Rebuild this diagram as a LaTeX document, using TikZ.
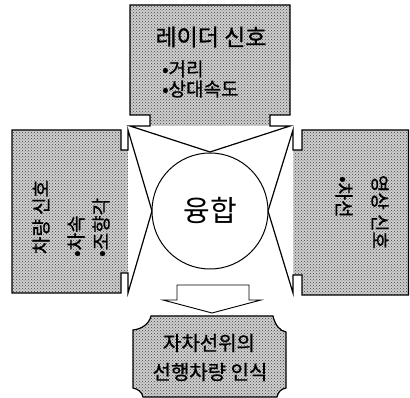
\documentclass[tikz,border=0pt]{standalone}
\usepackage{fontspec}
\newfontfamily\kr{Noto Sans CJK KR}
\newfontfamily\krm{Noto Sans CJK KR}[FakeBold=0.8]
\usetikzlibrary{patterns}
\tikzset{
  halftone/.style={preaction={fill=gray!38}, pattern=crosshatch dots, pattern color=black!75},
  outline/.style={draw=black, line width=1.2pt, line join=miter},
  txt/.style={font=\krm\fontsize{#1}{#1}\selectfont, inner sep=0pt},
  whitebox/.style={draw=black, line width=0.9pt, fill=white}
}
\begin{document}
\begin{tikzpicture}[x=1pt,y=-1pt]
\useasboundingbox (0,0) rectangle (410,398);
% ---- fills of the three signal boxes
\fill[halftone] (130,5) -- (290,5) -- (290,115) -- (270,115) -- (270,126) -- (150,126) -- (150,115) -- (130,115) -- cycle;
\fill[halftone] (12,130) -- (121,130) -- (121,150) -- (128,150) -- (128,273) -- (121,273) -- (121,293) -- (12,293) -- cycle;
\fill[halftone] (408.5,130) -- (302,130) -- (302,150) -- (293,150) -- (293,275) -- (302,275) -- (302,295) -- (408.5,295) -- cycle;
% ---- white wedges pointing to the centre
\fill[white] (150,126) -- (270,126) -- (210,152) -- cycle;
\fill[white] (128,150) -- (152,211) -- (128,273) -- cycle;
\fill[white] (293,150) -- (268,211) -- (293,275) -- cycle;
% ---- outlines of the arms
\draw[outline] (150,126) -- (150,115) -- (130,115) -- (130,5) -- (290,5) -- (290,115) -- (270,115) -- (270,126) -- (290,126) -- (210,152) -- (130,126) -- cycle;
\draw[outline] (12,130) -- (121,130) -- (121,150) -- (128,150) -- (128,130) -- (152,211) -- (128,293) -- (128,273) -- (121,273) -- (121,293) -- (12,293) -- cycle;
\draw[outline] (408.5,130) -- (302,130) -- (302,150) -- (293,150) -- (293,130) -- (268,211) -- (293,293) -- (293,275) -- (302,275) -- (302,295) -- (408.5,295) -- cycle;
% ---- texts of the arms
\node[txt=23] (radar) at (211,37) {레이더 신호};
\node[txt=19, anchor=west] (dist) at (162,69) {•거리};
\node[txt=19, anchor=west] (relv) at (162,89) {•상대속도};
\node[txt=19, rotate=90] (veh) at (41,217) {차량 신호};
\node[txt=19, rotate=90, anchor=west] (spd) at (76,257) {•차속};
\node[txt=19, rotate=90, anchor=west] (steer) at (101,257) {•조향각};
\node[txt=19, rotate=-90] (img) at (380,212) {영상 신호};
\node[txt=19, rotate=-90, anchor=west] (lane) at (344,176) {•차선};
% ---- fusion circle
\node[whitebox, circle, minimum size=116pt, inner sep=0pt, line width=1pt, font=\kr\fontsize{29}{29}\selectfont] (fuse) at (210,211) {융합};
% ---- block arrow
\draw[whitebox] (177,285) -- (249,285) -- (249,300) -- (261,300) -- (212,313) -- (163,300) -- (177,300) -- cycle;
% ---- result box
\draw[halftone, draw=black, line width=1.2pt]
  (151,316) -- (273,316) .. controls (275,325) and (280,331) .. (286,332)
  -- (286,388) .. controls (281,389) and (278,392) .. (277,397)
  -- (143,397) .. controls (142,392) and (138,389) .. (133,388)
  -- (133,330) .. controls (142,329) and (149,324) .. (151,316) -- cycle;
\node[txt=20] (res1) at (209,343) {자차선위의};
\node[txt=20] (res2) at (210,372) {선행차량 인식};
\end{tikzpicture}
\end{document}
